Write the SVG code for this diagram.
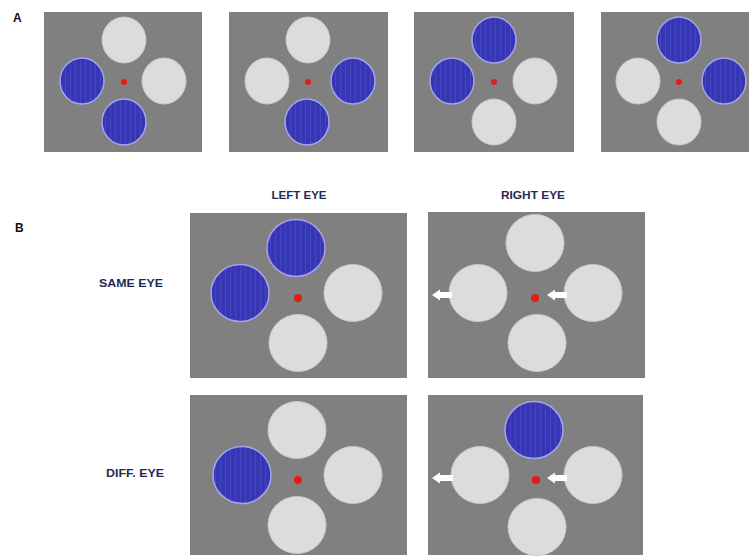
<svg xmlns="http://www.w3.org/2000/svg" width="749" height="558" viewBox="0 0 749 558">
<defs>
<pattern id="grat" patternUnits="userSpaceOnUse" width="5" height="10">
<rect width="5" height="10" fill="#3737b6"/>
<rect x="0" width="1" height="10" fill="#4545c0"/>
</pattern>
<style>
.bg{fill:#808080}
.lt{fill:#dcdcdc;stroke:#c9c9c9;stroke-width:1}
.bl{fill:url(#grat);stroke:#a4a4ee;stroke-width:1.5}
.fx{fill:#e31b1b}
.lab{font-family:"Liberation Sans",Arial,sans-serif;font-weight:bold;fill:#1f2a55;font-size:10px}
.pl{font-family:"Liberation Sans",Arial,sans-serif;font-weight:bold;fill:#111;font-size:12px}
.ar{fill:#ffffff}
</style>
</defs>
<rect width="749" height="558" fill="#ffffff"/>
<text class="pl" x="13" y="22">A</text>
<text class="pl" x="15" y="232">B</text>
<g id="a1">
<rect class="bg" x="44" y="12" width="158" height="140"/>
<ellipse class="lt" cx="124" cy="40" rx="22" ry="23"/>
<ellipse class="bl" cx="82" cy="81" rx="22" ry="23"/>
<ellipse class="lt" cx="164" cy="81" rx="22" ry="23"/>
<ellipse class="bl" cx="124" cy="122" rx="22" ry="23"/>
<circle class="fx" cx="124" cy="82" r="3"/>
</g>
<g id="a2">
<rect class="bg" x="229" y="12" width="159" height="140"/>
<ellipse class="lt" cx="308" cy="40" rx="22" ry="23"/>
<ellipse class="lt" cx="267" cy="81" rx="22" ry="23"/>
<ellipse class="bl" cx="353" cy="81" rx="22" ry="23"/>
<ellipse class="bl" cx="307" cy="122" rx="22" ry="23"/>
<circle class="fx" cx="308" cy="82" r="3"/>
</g>
<g id="a3">
<rect class="bg" x="414" y="12" width="160" height="140"/>
<ellipse class="bl" cx="494" cy="40" rx="22" ry="23"/>
<ellipse class="bl" cx="452" cy="81" rx="22" ry="23"/>
<ellipse class="lt" cx="535" cy="81" rx="22" ry="23"/>
<ellipse class="lt" cx="494" cy="122" rx="22" ry="23"/>
<circle class="fx" cx="494" cy="82" r="3"/>
</g>
<g id="a4">
<rect class="bg" x="601" y="12" width="160" height="140"/>
<ellipse class="bl" cx="679" cy="40" rx="22" ry="23"/>
<ellipse class="lt" cx="638" cy="81" rx="22" ry="23"/>
<ellipse class="bl" cx="724" cy="81" rx="22" ry="23"/>
<ellipse class="lt" cx="679" cy="122" rx="22" ry="23"/>
<circle class="fx" cx="679" cy="82" r="3"/>
</g>
<g id="labels">
<text class="lab" x="299" y="199" text-anchor="middle" textLength="55" lengthAdjust="spacingAndGlyphs">LEFT EYE</text>
<text class="lab" x="533" y="199" text-anchor="middle" textLength="64" lengthAdjust="spacingAndGlyphs">RIGHT EYE</text>
<text class="lab" x="163" y="287" text-anchor="end" textLength="64" lengthAdjust="spacingAndGlyphs">SAME EYE</text>
<text class="lab" x="164" y="477" text-anchor="end" textLength="58" lengthAdjust="spacingAndGlyphs">DIFF. EYE</text>
</g>
<g id="b-same-left">
<rect class="bg" x="190" y="213" width="217" height="165"/>
<ellipse class="bl" cx="296" cy="248" rx="29" ry="28.5"/>
<ellipse class="bl" cx="240" cy="293" rx="29" ry="28.5"/>
<ellipse class="lt" cx="353" cy="293" rx="29" ry="28.5"/>
<ellipse class="lt" cx="298" cy="343" rx="29" ry="28.5"/>
<circle class="fx" cx="298" cy="298" r="4"/>
</g>
<g id="b-same-right">
<rect class="bg" x="428" y="212" width="217" height="166"/>
<ellipse class="lt" cx="535" cy="243" rx="29" ry="28.5"/>
<ellipse class="lt" cx="478" cy="293" rx="29" ry="28.5"/>
<ellipse class="lt" cx="593" cy="293" rx="29" ry="28.5"/>
<ellipse class="lt" cx="537" cy="343" rx="29" ry="28.5"/>
<circle class="fx" cx="535" cy="298" r="4"/>
</g>
<g id="b-diff-left">
<rect class="bg" x="190" y="395" width="217" height="160"/>
<ellipse class="lt" cx="297" cy="430" rx="29" ry="28.5"/>
<ellipse class="bl" cx="242" cy="475" rx="29" ry="28.5"/>
<ellipse class="lt" cx="353" cy="475" rx="29" ry="28.5"/>
<ellipse class="lt" cx="297" cy="525" rx="29" ry="28.5"/>
<circle class="fx" cx="298" cy="480" r="4"/>
</g>
<g id="b-diff-right">
<rect class="bg" x="428" y="395" width="215" height="160"/>
<ellipse class="bl" cx="534" cy="430" rx="29" ry="28.5"/>
<ellipse class="lt" cx="480" cy="475" rx="29" ry="28.5"/>
<ellipse class="lt" cx="593" cy="475" rx="29" ry="28.5"/>
<ellipse class="lt" cx="537" cy="527" rx="29" ry="28.5"/>
<circle class="fx" cx="536" cy="480" r="4"/>
</g>
<g id="arrows">
<path class="ar" d="M432,295 L440,289.5 L440,292 L452,292 L452,298 L440,298 L440,300.5 Z"/>
<path class="ar" d="M547,295 L555,289.5 L555,292 L567,292 L567,298 L555,298 L555,300.5 Z"/>
<path class="ar" d="M432,478 L440,472.5 L440,475 L453,475 L453,481 L440,481 L440,483.5 Z"/>
<path class="ar" d="M547,478 L555,472.5 L555,475 L567,475 L567,481 L555,481 L555,483.5 Z"/>
</g>
</svg>
